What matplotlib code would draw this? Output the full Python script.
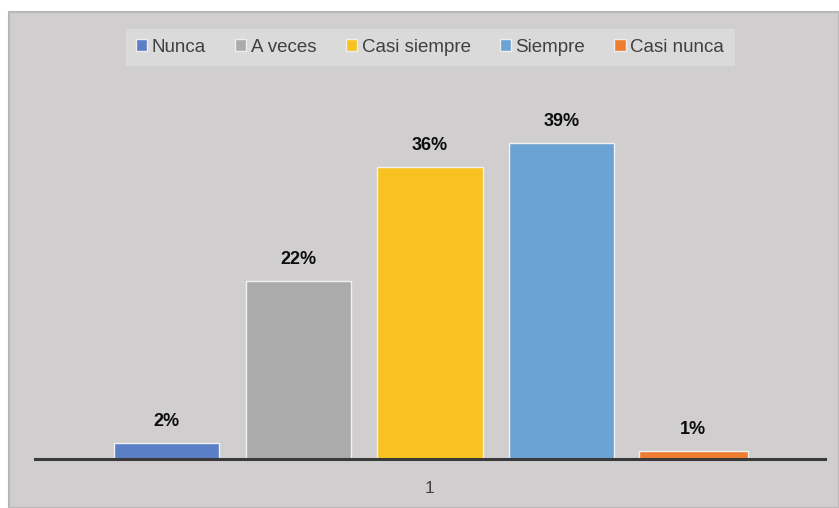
import matplotlib
matplotlib.use("Agg")
import matplotlib.pyplot as plt
from matplotlib.patches import Rectangle, Patch

categories = ["Nunca", "A veces", "Casi siempre", "Siempre", "Casi nunca"]
values = [2, 22, 36, 39, 1]
colors = ["#5B7FC7", "#ABABAB", "#F8C320", "#6CA3D5", "#EE7D31"]
xtick_labels = ["1"]

W, H = 839, 508
fig = plt.figure(figsize=(W / 100, H / 100), dpi=100)
fig.patch.set_facecolor("white")

# chart panel background
panel = Rectangle((9 / W, 0), 1 - 9 / W, (H - 12) / H, transform=fig.transFigure,
                  facecolor="#D0CECE", edgecolor="#B8B6B6", linewidth=1.5, zorder=-5)
fig.patches.append(panel)

px_per = 316 / 39.0
ymax = 45
bottom_px = 459
top_px = bottom_px - px_per * ymax
left_px, right_px = 35, 825
ax = fig.add_axes([left_px / W, (H - bottom_px) / H, (right_px - left_px) / W,
                   (bottom_px - top_px) / H])
ax.set_zorder(1)
ax.set_facecolor("none")
ax.set_xlim(-1, 5)
ax.set_ylim(0, ymax)

xs = list(range(len(categories)))
widths = [0.8, 0.8, 0.8, 0.8, 0.83]
bars = ax.bar(xs, values, width=widths, color=colors, edgecolor="#F2F2F2",
              linewidth=1.0, zorder=2)
for x, v in zip(xs, values):
    ax.text(x, v + 1.6, f"{v}%", ha="center", va="bottom", fontsize=13,
            fontweight="bold", family="Liberation Sans", color="#0D0D0D")

for s in ["top", "right", "left"]:
    ax.spines[s].set_visible(False)
ax.spines["bottom"].set_color("#3A3A3A")
ax.spines["bottom"].set_linewidth(2.2)
ax.set_yticks([])
ax.set_xticks([2])
ax.set_xticklabels(xtick_labels, fontsize=12.5, family="Liberation Sans", color="#404040")
ax.tick_params(axis="x", length=0, pad=16)

handles = [Patch(facecolor=c, edgecolor="#EEEEEE", label=l) for c, l in zip(colors, categories)]
leg = fig.legend(handles=handles, loc="center", bbox_to_anchor=(430 / W, 1 - 47 / H),
                 ncol=5, frameon=True, fancybox=False,
                 prop={"family": "Liberation Sans", "size": 13.5},
                 handlelength=0.6, handleheight=0.6, handletextpad=0.25,
                 columnspacing=1.55, borderpad=0.5, borderaxespad=0)
leg.get_frame().set_facecolor("#DADADA")
leg.get_frame().set_edgecolor("#DADADA")
leg.get_frame().set_alpha(1)
for t in leg.get_texts():
    t.set_color("#404040")

fig.savefig("out.png", dpi=100, facecolor=fig.get_facecolor())
